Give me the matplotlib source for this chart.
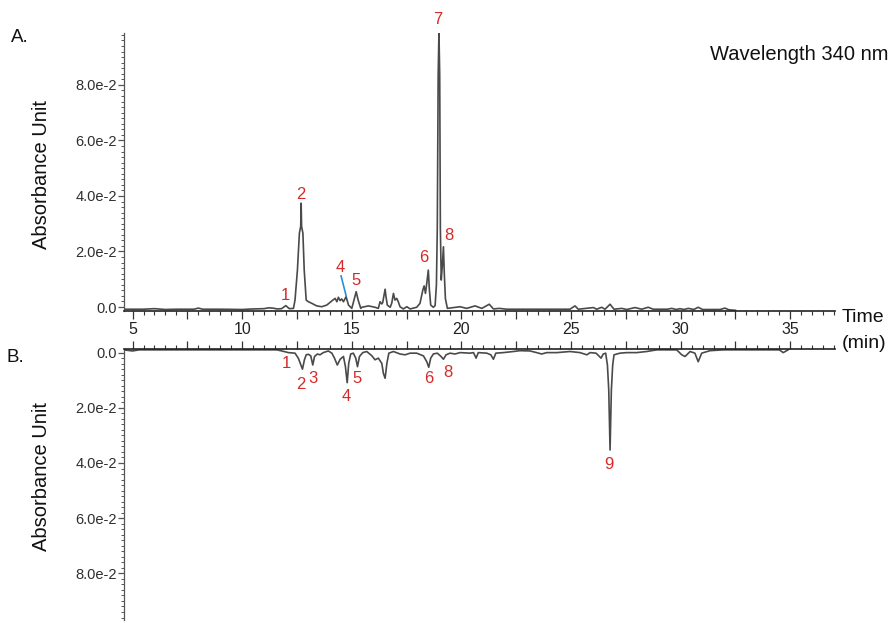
import matplotlib
matplotlib.use("Agg")
import matplotlib.pyplot as plt
from matplotlib.ticker import MultipleLocator, FuncFormatter

plt.rcParams['font.family'] = ['Liberation Sans', 'DejaVu Sans']

# ---- chromatogram A (340 nm) : time (min), absorbance ----
time_a = [4.6, 5.5, 6.0, 6.5, 7.0, 7.8, 8.0, 8.2, 9.0, 10.0, 10.5, 11.0, 11.2, 11.4,
          11.6, 11.8, 11.99, 12.15, 12.34, 12.41, 12.52, 12.61, 12.67, 12.69, 12.71,
          12.77, 12.83, 12.92, 13.02, 13.18, 13.40, 13.63, 13.86, 14.09, 14.24, 14.32,
          14.39, 14.47, 14.54, 14.62, 14.74, 14.85, 15.0, 15.1, 15.2, 15.29, 15.41,
          15.46, 15.76, 16.06, 16.21, 16.29, 16.37, 16.41, 16.52, 16.56, 16.62, 16.75,
          16.82, 16.9, 16.97, 17.05, 17.12, 17.2, 17.35, 17.51, 17.66, 17.96, 18.11,
          18.24, 18.3, 18.36, 18.42, 18.49, 18.54, 18.6, 18.72, 18.80, 18.86, 18.90,
          18.94, 18.975, 19.01, 19.04, 19.08, 19.13, 19.18, 19.22, 19.27, 19.36, 19.94,
          20.24, 20.62, 20.93, 21.27, 21.46, 21.73, 22.07, 24.95, 25.18, 25.33, 26.02,
          26.17, 26.4, 26.55, 26.78, 26.96, 27.31, 27.54, 27.92, 28.22, 28.52, 28.75,
          29.4, 29.59, 29.8, 29.97, 30.15, 30.35, 30.6, 30.8, 31.0, 31.8, 32.02, 32.2,
          32.5]
abs_a = [-0.0008, -0.0008, -0.0006, -0.0009, -0.0008, -0.0008, -0.0004, -0.0008,
         -0.0008, -0.0009, -0.0007, -0.0006, -0.0003, -0.0004, -0.0007, -0.0006,
         0.0005, -0.0006, -0.0005, 0.0025, 0.0133, 0.0266, 0.0290, 0.0374, 0.0290,
         0.0266, 0.0133, 0.0025, 0.0019, 0.0013, 0.0004, 0.0001, 0.0007, 0.0022,
         0.0031, 0.0019, 0.0035, 0.0023, 0.0029, 0.0019, 0.0037, 0.0007, -0.0005,
         0.0025, 0.0055, 0.0025, -0.0005, -0.0001, 0.0004, -0.0001, -0.0005, 0.0019,
         0.0011, 0.0016, 0.0064, 0.0037, 0.0007, -0.0001, 0.0013, 0.0049, 0.0025,
         0.0031, 0.0019, 0.0001, -0.0007, 0.0001, -0.0007, -0.0001, 0.0013, 0.0061,
         0.0076, 0.0049, 0.0085, 0.0133, 0.0061, 0.0007, -0.0001, 0.0005, 0.0080,
         0.0284, 0.0836, 0.0990, 0.0836, 0.0284, 0.0097, 0.0150, 0.0217, 0.0120,
         0.0030, -0.0005, 0.0001, -0.0005, 0.0004, -0.0005, 0.0010, -0.0007, -0.0005,
         -0.0008, -0.0008, 0.0004, -0.0008, -0.0002, -0.0008, -0.0001, -0.0008,
         0.0010, -0.0008, -0.0005, -0.0009, -0.0002, -0.0008, -0.0001, -0.0008,
         -0.0008, -0.0005, -0.0009, -0.0006, -0.0009, -0.0005, -0.0009, -0.0001,
         -0.0009, -0.0009, -0.0004, -0.0010, -0.0012]

# ---- chromatogram B : time (min), absorbance (plotted downward) ----
time_b = [4.6, 5.0, 5.3, 11.0, 11.58, 11.81, 12.11, 12.41, 12.56, 12.75, 12.84, 12.92,
          13.02, 13.13, 13.22, 13.3, 13.43, 13.55, 13.7, 13.93, 14.09, 14.21, 14.34,
          14.47, 14.62, 14.71, 14.79, 14.86, 14.95, 15.07, 15.18, 15.26, 15.35, 15.5,
          15.68, 15.91, 16.06, 16.21, 16.37, 16.44, 16.52, 16.6, 16.69, 16.9, 17.2,
          17.43, 17.66, 17.96, 18.27, 18.42, 18.51, 18.6, 18.72, 18.9, 19.07, 19.18,
          19.3, 19.48, 19.71, 19.94, 20.39, 20.55, 20.67, 20.77, 21.16, 21.34, 21.46,
          21.57, 21.91, 22.37, 22.67, 23.13, 23.43, 23.66, 23.89, 24.35, 24.95, 25.41,
          25.72, 25.87, 26.14, 26.37, 26.47, 26.58, 26.66, 26.72, 26.78, 26.84, 26.9,
          26.96, 27.23, 27.54, 27.99, 28.45, 28.91, 29.82, 30.05, 30.2, 30.43, 30.65,
          30.8, 30.96, 31.34, 31.95, 34.5, 34.68, 34.9]
abs_b = [-0.0010, -0.0006, -0.0010, -0.0010, -0.0010, -0.0006, 0.0000, 0.0002, 0.0020,
         0.0060, 0.0026, 0.0008, 0.0006, 0.0012, 0.0045, 0.0014, 0.0005, 0.0008, 0.0000,
         -0.0006, 0.0002, 0.0020, 0.0045, 0.0024, 0.0014, 0.0051, 0.0109, 0.0039,
         0.0005, 0.0002, 0.0020, 0.0051, 0.0014, 0.0000, -0.0004, 0.0011, 0.0026,
         0.0020, 0.0039, 0.0075, 0.0093, 0.0039, 0.0002, -0.0004, 0.0005, 0.0008,
         0.0002, 0.0002, 0.0012, 0.0033, 0.0053, 0.0020, 0.0005, 0.0002, 0.0014,
         0.0024, 0.0008, 0.0002, 0.0005, 0.0000, 0.0002, 0.0000, 0.0020, 0.0000,
         0.0002, 0.0008, 0.0024, 0.0002, 0.0000, -0.0004, -0.0007, -0.0006, 0.0000,
         0.0005, 0.0000, 0.0000, -0.0004, 0.0000, 0.0008, 0.0000, 0.0002, 0.0020,
         0.0005, 0.0002, 0.0045, 0.0135, 0.0353, 0.0135, 0.0045, 0.0008, 0.0002,
         0.0000, 0.0000, -0.0004, -0.0010, -0.0010, 0.0008, 0.0014, -0.0004, 0.0002,
         0.0033, 0.0002, -0.0007, -0.0010, -0.0010, 0.0000, -0.0010]

# ---- numbered peaks: label, label anchor (time, absorbance) ----
peaks_a_labels = ['1', '2', '4', '5', '6', '7', '8']
peaks_a_time = [11.96, 12.66, 14.49, 15.19, 18.29, 18.93, 19.44]
peaks_a_abs = [0.0043, 0.0407, 0.0144, 0.0094, 0.0177, 0.1034, 0.0256]

peaks_b_labels = ['1', '2', '3', '4', '5', '6', '8', '9']
peaks_b_time = [12.0, 12.69, 13.22, 14.77, 15.26, 18.49, 19.36, 26.72]
peaks_b_abs = [0.0038, 0.0117, 0.0093, 0.0160, 0.0093, 0.0093, 0.0071, 0.0407]

# leader line from label 4 to its peak in A
leader_time = [14.51, 14.74]
leader_abs = [0.0112, 0.0041]

y_ticks = [0.0, 0.02, 0.04, 0.06, 0.08]
y_tick_labels = ['0.0', '2.0e-2', '4.0e-2', '6.0e-2', '8.0e-2']

W, H = 894, 623
fig = plt.figure(figsize=(W / 100, H / 100), dpi=100)


def fx(px):
    return px / W


def fy(py):
    return 1 - py / H


trace_color = '#4a4a4a'
label_red = '#d62a2a'
tick_color = '#2e2e2e'
xlim = (4.61, 37.04)

ax_a = fig.add_axes([fx(124), fy(311), fx(835) - fx(124), fy(33) - fy(311)])
ax_b = fig.add_axes([fx(124), fy(620), fx(835) - fx(124), fy(349.3) - fy(620)])

for ax in (ax_a, ax_b):
    ax.set_facecolor('none')
    ax.set_xlim(*xlim)
    ax.set_yticks(y_ticks)
    ax.set_yticklabels(y_tick_labels)
    ax.yaxis.set_minor_locator(MultipleLocator(0.002))
    ax.xaxis.set_major_locator(MultipleLocator(2.5))
    ax.xaxis.set_minor_locator(MultipleLocator(0.5))
    ax.tick_params(axis='y', which='major', direction='out', length=4, width=0.9,
                   pad=1, labelsize=10.5, labelcolor=tick_color, color='#555555')
    ax.tick_params(axis='y', which='minor', direction='out', length=2.5, width=0.7,
                   color='#555555')
    ax.tick_params(axis='x', which='major', direction='out', length=6, width=0.9,
                   color='#333333')
    ax.tick_params(axis='x', which='minor', direction='out', length=3, width=0.8,
                   color='#333333')
    ax.spines['right'].set_visible(False)
    ax.spines['left'].set_color('#555555')
    ax.spines['left'].set_linewidth(0.9)

# Panel A
ax_a.set_ylim(-0.00144, 0.0987)
ax_a.spines['top'].set_visible(False)
ax_a.spines['bottom'].set_linewidth(1.2)
ax_a.spines['bottom'].set_color('#222222')
ax_a.xaxis.set_major_formatter(FuncFormatter(
    lambda v, p: f'{v:.0f}' if abs(v / 5 - round(v / 5)) < 1e-6 else ''))
ax_a.tick_params(axis='x', which='major', labelsize=11.5, labelcolor='#222222', pad=2)
ax_a.plot(time_a, abs_a, color=trace_color, lw=1.2, solid_joinstyle='round')
ax_a.plot(leader_time, leader_abs, color='#2a8fd8', lw=1.2)
for lab, t, a in zip(peaks_a_labels, peaks_a_time, peaks_a_abs):
    ax_a.text(t, a, lab, color=label_red, fontsize=12, ha='center', va='center',
              clip_on=False)
ax_a.set_ylabel('Absorbance Unit', fontsize=14.5, color='#111111')

# Panel B (inverted, axis along the top)
ax_b.set_ylim(0.0969, -0.0012)
ax_b.spines['bottom'].set_visible(False)
ax_b.spines['top'].set_linewidth(1.2)
ax_b.spines['top'].set_color('#222222')
ax_b.xaxis.tick_top()
ax_b.tick_params(axis='x', which='both', labeltop=False, labelbottom=False)
ax_b.plot(time_b, abs_b, color=trace_color, lw=1.2, solid_joinstyle='round')
for lab, t, a in zip(peaks_b_labels, peaks_b_time, peaks_b_abs):
    ax_b.text(t, a, lab, color=label_red, fontsize=12, ha='center', va='center',
              clip_on=False)
ax_b.set_ylabel('Absorbance Unit', fontsize=14.5, color='#111111')

# y-label centres sit near x = 42 px
ax_a.yaxis.set_label_coords(-(124 - 51) / (835 - 124), 0.49)
ax_b.yaxis.set_label_coords(-(124 - 51) / (835 - 124), 0.53)

# Figure annotations
fig.text(fx(11), fy(38), 'A.', fontsize=13.5, ha='left', va='center', color='#111111')
fig.text(fx(7), fy(357), 'B.', fontsize=13.5, ha='left', va='center', color='#111111')
fig.text(fx(888), fy(55), 'Wavelength 340 nm', fontsize=14.5, ha='right', va='center',
         color='#111111')
fig.text(fx(842), fy(318), 'Time', fontsize=14, ha='left', va='center', color='#111111')
fig.text(fx(842), fy(343), '(min)', fontsize=14, ha='left', va='center', color='#111111')

fig.savefig('out.png', dpi=100)
